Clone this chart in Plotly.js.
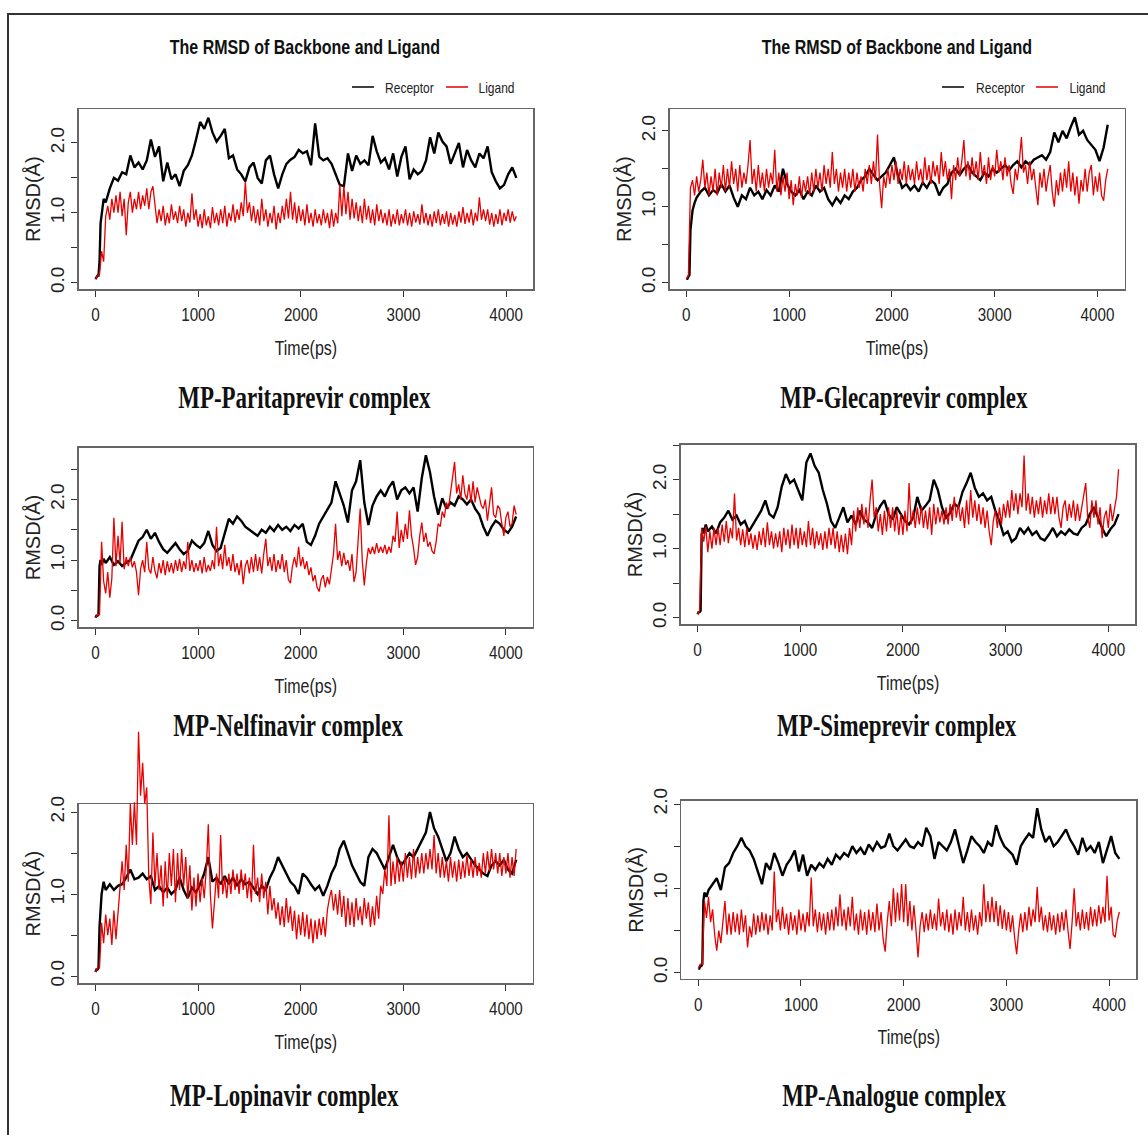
<!DOCTYPE html>
<html><head><meta charset="utf-8">
<script src="https://cdn.plot.ly/plotly-3.0.1.min.js"></script>
<style>html,body{margin:0;padding:0;background:#fff;}#chart{width:1148px;height:1135px;}</style>
</head><body><div id="chart"></div>
<script>
// ---------------- DATA ----------------
// receptor (backbone) RMSD sampled on a coarse time grid (ps)
const timeReceptor = [0,10,20,30,40,50,60,80,100,
140,180,220,260,300,340,380,420,460,500,
540,580,620,660,700,740,780,820,860,900,
940,980,1020,1060,1100,1140,1180,1220,1260,1300,
1340,1380,1420,1460,1500,1540,1580,1620,1660,1700,
1740,1780,1820,1860,1900,1940,1980,2020,2060,2100,
2140,2180,2220,2260,2300,2340,2380,2420,2460,2500,
2540,2580,2620,2660,2700,2740,2780,2820,2860,2900,
2940,2980,3020,3060,3100,3140,3180,3220,3260,3300,
3340,3380,3420,3460,3500,3540,3580,3620,3660,3700,
3740,3780,3820,3860,3900,3940,3980,4020,4060,4100];
// ligand RMSD sampled on a finer time grid (ps)
const timeLigand = [0,20,40,60,80,100,120,140,160,180,
200,220,240,260,280,300,320,340,360,380,
400,420,440,460,480,500,520,540,560,580,
600,620,640,660,680,700,720,740,760,780,
800,820,840,860,880,900,920,940,960,980,
1000,1020,1040,1060,1080,1100,1120,1140,1160,1180,
1200,1220,1240,1260,1280,1300,1320,1340,1360,1380,
1400,1420,1440,1460,1480,1500,1520,1540,1560,1580,
1600,1620,1640,1660,1680,1700,1720,1740,1760,1780,
1800,1820,1840,1860,1880,1900,1920,1940,1960,1980,
2000,2020,2040,2060,2080,2100,2120,2140,2160,2180,
2200,2220,2240,2260,2280,2300,2320,2340,2360,2380,
2400,2420,2440,2460,2480,2500,2520,2540,2560,2580,
2600,2620,2640,2660,2680,2700,2720,2740,2760,2780,
2800,2820,2840,2860,2880,2900,2920,2940,2960,2980,
3000,3020,3040,3060,3080,3100,3120,3140,3160,3180,
3200,3220,3240,3260,3280,3300,3320,3340,3360,3380,
3400,3420,3440,3460,3480,3500,3520,3540,3560,3580,
3600,3620,3640,3660,3680,3700,3720,3740,3760,3780,
3800,3820,3840,3860,3880,3900,3920,3940,3960,3980,
4000,4020,4040,4060,4080,4100];

const seriesNames = ['Receptor', 'Ligand'];
const headerTitle = 'The RMSD of Backbone and Ligand';
const xTitle = 'Time(ps)';
const yTitle = 'RMSD(Å)';
const captions = ['MP-Paritaprevir complex','MP-Glecaprevir complex','MP-Nelfinavir complex',
                  'MP-Simeprevir complex','MP-Lopinavir complex','MP-Analogue complex'];
const xTickVals = [0,1000,2000,3000,4000];
const xTickText = ['0','1000','2000','3000','4000'];
const yTickVals = [0,0.5,1,1.5,2,2.5];
const yTickText = ['0.0','','1.0','','2.0',''];

const paritaprevirReceptor = [0.05,0.08,0.1,0.1,0.3,0.85,1.0,1.2,1.15,
1.35,1.5,1.46,1.58,1.55,1.82,1.65,1.72,1.62,1.75,
2.05,1.8,1.95,1.45,1.72,1.48,1.55,1.38,1.6,1.68,
1.82,2.05,2.3,2.2,2.36,2.15,2.02,2.1,2.2,1.78,
1.82,1.62,1.55,1.45,1.65,1.72,1.5,1.42,1.75,1.82,
1.55,1.35,1.55,1.7,1.76,1.8,1.9,1.85,1.88,1.68,
2.28,1.8,1.75,1.78,1.7,1.55,1.4,1.38,1.85,1.6,
1.82,1.7,1.75,1.68,2.1,1.88,1.72,1.78,1.62,1.85,
1.52,1.8,1.95,1.48,1.62,1.55,1.6,1.75,2.08,1.85,
2.15,2.02,1.95,1.7,1.85,2.0,1.65,1.9,1.75,1.65,
1.85,1.78,1.95,1.58,1.45,1.35,1.4,1.55,1.65,1.5];
const paritaprevirLigand = [0.05,0.1,0.12,0.45,0.3,0.95,1.1,0.9,1.2,1.0,
1.25,1.0,1.3,0.95,1.2,0.68,1.15,1.3,1.0,1.2,
1.05,1.3,1.05,1.25,1.1,1.35,1.05,1.3,1.38,1.1,
0.85,1.05,0.88,1.1,0.82,1.0,0.85,1.12,0.9,1.02,
0.85,1.1,0.88,1.05,0.8,1.0,0.86,1.28,0.9,1.05,
0.8,0.98,0.78,1.05,0.82,0.95,0.78,1.08,0.85,1.0,
0.82,1.05,0.85,1.1,0.8,1.0,0.88,1.12,0.86,1.05,
0.9,1.15,0.95,1.44,1.0,1.15,0.88,1.1,0.85,1.05,
0.82,1.2,0.88,1.05,0.8,1.0,0.85,1.1,0.76,1.0,
0.85,1.1,0.9,1.2,0.92,1.3,0.9,1.15,0.85,1.1,
0.88,1.05,0.82,1.12,0.85,1.0,0.8,1.05,0.85,0.98,
0.82,1.05,0.85,1.0,0.78,1.05,0.8,1.0,0.85,1.4,
0.95,1.38,0.98,1.3,0.9,1.2,0.92,1.15,0.88,1.1,
0.85,1.2,0.9,1.1,0.85,1.05,0.82,1.12,0.88,1.05,
0.85,1.0,0.82,1.05,0.8,0.98,0.84,1.05,0.82,0.98,
0.85,1.05,0.82,1.0,0.8,1.02,0.86,0.98,0.83,1.12,
0.85,1.0,0.82,0.98,0.8,1.02,0.85,1.05,0.82,0.98,
0.84,1.02,0.8,1.0,0.83,0.97,0.8,1.02,0.86,1.08,
0.84,1.0,0.86,1.05,0.82,1.0,0.88,1.22,0.9,1.05,
0.88,1.05,0.83,1.0,0.8,0.98,0.84,1.05,0.82,1.0,
0.88,1.05,0.86,1.02,0.88,0.95];

const glecaprevirReceptor = [0.05,0.05,0.08,0.1,0.7,0.85,0.95,1.05,1.12,
1.2,1.25,1.15,1.22,1.18,1.3,1.2,1.28,1.12,1.0,
1.15,1.1,1.25,1.15,1.2,1.1,1.22,1.15,1.28,1.2,
1.5,1.3,1.2,1.15,1.22,1.1,1.2,1.15,1.28,1.2,
1.25,1.1,1.02,1.12,1.05,1.15,1.1,1.2,1.25,1.35,
1.4,1.5,1.42,1.35,1.4,1.45,1.55,1.65,1.4,1.25,
1.3,1.22,1.28,1.2,1.32,1.25,1.35,1.3,1.15,1.25,
1.3,1.45,1.5,1.42,1.5,1.55,1.45,1.4,1.35,1.45,
1.4,1.5,1.45,1.5,1.55,1.48,1.55,1.6,1.52,1.6,
1.55,1.62,1.65,1.68,1.62,1.72,1.98,1.85,2.0,1.9,
2.05,2.18,1.95,2.0,1.88,1.82,1.75,1.6,1.78,2.08];
const glecaprevirLigand = [0.05,0.1,1.25,1.35,1.15,1.4,1.2,1.35,1.62,1.25,
1.45,1.15,1.4,1.2,1.5,1.15,1.45,1.25,1.55,1.2,
1.5,1.25,1.6,1.3,1.5,1.2,1.55,1.25,1.45,1.3,
1.55,1.88,1.3,1.5,1.2,1.55,1.25,1.45,1.2,1.5,
1.25,1.45,1.3,1.75,1.2,1.45,1.15,1.4,1.2,1.45,
1.1,1.35,1.02,1.3,1.15,1.4,1.12,1.35,1.2,1.4,
1.15,1.45,1.2,1.5,1.25,1.45,1.2,1.55,1.3,1.5,
1.25,1.72,1.3,1.5,1.2,1.45,1.25,1.5,1.2,1.45,
1.25,1.5,1.2,1.45,1.25,1.4,1.2,1.5,1.3,1.55,
1.3,1.6,1.35,1.95,1.3,0.98,1.4,1.25,1.5,1.3,
1.55,1.35,1.6,1.3,1.5,1.35,1.6,1.3,1.55,1.35,
1.5,1.3,1.6,1.35,1.5,1.3,1.65,1.35,1.55,1.3,
1.6,1.4,1.55,1.3,1.72,1.4,1.6,1.35,1.5,1.1,
1.55,1.35,1.65,1.4,1.6,1.88,1.4,1.6,1.35,1.65,
1.4,1.6,1.35,1.72,1.4,1.55,1.3,1.65,1.35,1.55,
1.4,1.75,1.45,1.6,1.35,1.65,1.4,1.55,1.3,1.17,
1.5,1.35,1.6,1.92,1.45,1.55,1.3,1.6,1.35,1.5,
1.25,1.02,1.45,1.25,1.5,1.2,1.4,1.55,1.2,1.0,
1.35,1.15,1.45,1.2,1.5,1.25,1.6,1.2,1.45,1.15,
1.4,1.04,1.35,1.2,1.5,1.2,1.45,1.55,1.15,1.4,
1.2,1.45,1.15,1.08,1.35,1.5];

const nelfinavirReceptor = [0.05,0.08,0.08,0.1,0.9,1.0,0.92,1.02,0.95,
1.05,0.92,0.98,0.9,0.96,1.0,1.15,1.32,1.38,1.5,
1.35,1.45,1.3,1.18,1.12,1.2,1.28,1.18,1.1,1.15,
1.32,1.25,1.2,1.28,1.48,1.25,1.15,1.2,1.45,1.68,
1.6,1.72,1.65,1.55,1.5,1.45,1.4,1.5,1.45,1.55,
1.48,1.58,1.5,1.55,1.48,1.58,1.52,1.6,1.3,1.25,
1.4,1.6,1.72,1.85,1.95,2.3,2.1,1.9,1.62,2.15,
2.3,2.65,1.95,1.58,1.9,2.05,2.15,2.05,2.2,2.3,
2.0,2.15,2.2,2.1,2.2,1.8,2.35,2.73,2.45,2.05,
1.75,2.02,1.85,1.95,1.9,2.05,2.0,1.92,2.0,1.85,
1.75,1.55,1.4,1.55,1.65,1.6,1.5,1.45,1.55,1.72];
const nelfinavirLigand = [0.05,0.1,0.1,1.3,0.65,0.45,0.8,0.38,0.7,1.7,
0.9,1.4,0.95,1.63,0.85,1.05,0.9,1.05,0.88,0.98,
0.8,0.42,0.85,1.0,0.8,1.3,0.85,0.78,1.05,0.82,
0.7,0.95,0.78,1.0,0.75,0.98,0.8,0.95,0.78,1.0,
0.82,1.02,0.8,0.98,0.85,1.3,0.82,1.0,0.8,0.95,
0.82,1.0,0.78,1.05,0.8,0.92,0.82,1.0,0.85,1.55,
0.9,1.1,0.85,1.25,0.9,1.05,0.82,1.1,0.8,0.95,
0.75,1.0,0.6,0.9,1.0,0.78,1.05,0.8,1.1,0.82,
1.05,0.78,1.1,1.35,0.9,1.05,0.82,1.1,0.8,1.0,
0.85,1.1,0.8,1.0,0.68,0.62,0.9,1.05,0.88,1.22,
0.9,1.05,0.85,0.98,0.75,0.88,0.65,0.75,0.55,0.48,
0.68,0.75,0.55,0.72,0.6,0.9,1.1,1.6,1.0,1.15,
0.9,1.12,0.92,1.0,0.82,1.1,0.64,0.8,1.3,1.85,
1.0,0.58,0.95,1.2,1.1,1.22,1.1,1.28,1.12,1.22,
1.12,1.25,1.1,1.22,1.12,1.4,1.3,1.8,1.2,1.5,
1.3,1.6,1.35,1.82,1.4,1.2,0.92,1.05,1.4,1.62,
1.3,1.45,1.22,1.3,1.15,1.1,1.3,1.6,1.55,1.8,
1.7,1.95,1.85,2.1,2.3,2.62,2.1,2.25,2.0,2.4,
2.1,2.0,2.25,1.95,2.3,1.95,2.2,2.05,1.9,1.85,
2.0,1.65,1.9,2.2,1.75,1.7,1.9,1.85,1.6,1.4,
1.7,1.8,1.55,1.6,1.9,1.75];

const simeprevirReceptor = [0.05,0.08,0.08,0.1,1.2,1.3,1.22,1.35,1.25,
1.32,1.22,1.38,1.45,1.55,1.42,1.48,1.35,1.4,1.25,
1.35,1.45,1.55,1.7,1.5,1.45,1.6,1.9,2.08,1.95,
2.0,1.85,1.7,2.25,2.38,2.2,2.1,1.85,1.65,1.4,
1.3,1.45,1.6,1.38,1.48,1.35,1.55,1.42,1.38,1.3,
1.5,1.62,1.7,1.5,1.42,1.6,1.5,1.4,1.35,1.45,
1.75,1.55,1.62,1.7,2.0,1.85,1.6,1.45,1.52,1.65,
1.6,1.82,1.95,2.1,1.88,1.75,1.8,1.7,1.75,1.55,
1.4,1.2,1.25,1.1,1.15,1.3,1.22,1.3,1.2,1.25,
1.15,1.12,1.2,1.3,1.18,1.25,1.2,1.28,1.22,1.2,
1.3,1.35,1.5,1.6,1.45,1.3,1.18,1.28,1.35,1.5];
const simeprevirLigand = [0.05,0.1,1.3,1.1,1.32,0.95,1.25,1.0,1.3,1.05,
1.3,1.05,1.35,1.1,1.4,1.08,1.3,1.15,1.8,1.12,
1.3,1.05,1.28,1.02,1.3,1.05,1.22,1.0,1.2,0.98,
1.25,1.05,1.3,1.02,1.38,1.05,1.25,1.0,1.22,1.02,
1.25,0.95,1.3,1.05,1.28,1.0,1.35,1.05,1.3,1.0,
1.3,1.05,1.25,1.02,1.4,1.05,1.3,1.0,1.25,1.05,
1.22,0.98,1.25,1.0,1.3,1.05,1.3,1.0,1.25,0.95,
1.2,0.95,1.22,0.92,1.3,1.05,1.55,1.25,1.6,1.3,
1.65,1.35,1.6,1.3,1.7,2.0,1.45,1.6,1.25,1.5,
1.2,1.55,1.25,1.6,1.3,1.6,1.25,1.55,1.2,1.5,
1.2,1.55,1.25,1.95,1.35,1.55,1.3,1.6,1.35,1.62,
1.3,1.55,1.28,1.6,1.2,1.65,1.35,1.6,1.38,1.55,
1.35,1.6,1.35,1.65,1.4,1.75,1.45,1.65,1.4,1.6,
1.3,1.7,1.35,1.85,1.45,1.7,1.4,1.65,1.35,1.6,
1.3,1.55,1.25,1.05,1.4,1.55,1.3,1.6,1.35,1.65,
1.45,1.7,1.45,1.85,1.55,1.8,1.5,1.8,1.6,2.35,
1.55,1.8,1.5,1.75,1.45,1.7,1.5,1.75,1.45,1.7,
1.5,1.8,1.5,1.75,1.5,1.75,1.45,1.3,1.6,1.7,
1.4,1.65,1.45,1.7,1.4,1.65,1.4,1.6,1.75,1.95,
1.45,1.3,1.7,1.45,1.7,1.35,1.6,1.15,1.45,1.55,
1.3,1.65,1.4,1.6,1.75,2.15];

const lopinavirReceptor = [0.05,0.08,0.08,0.1,0.6,0.9,1.0,1.15,1.05,
1.12,1.05,1.1,1.12,1.2,1.3,1.18,1.2,1.25,1.18,
1.22,1.05,1.1,1.02,1.08,1.0,1.05,1.2,1.05,0.95,
1.08,1.02,1.12,1.25,1.45,1.15,1.2,1.12,1.22,1.12,
1.2,1.1,1.18,1.12,1.15,1.08,1.0,1.1,1.05,1.2,
1.3,1.45,1.35,1.25,1.15,1.1,1.0,1.25,1.2,1.12,
1.05,1.1,0.98,1.1,1.25,1.35,1.55,1.65,1.5,1.35,
1.25,1.15,1.1,1.45,1.55,1.5,1.4,1.3,1.45,1.6,
1.45,1.35,1.42,1.5,1.45,1.55,1.65,1.75,2.0,1.8,
1.7,1.55,1.4,1.5,1.7,1.55,1.45,1.5,1.42,1.35,
1.3,1.25,1.22,1.35,1.4,1.35,1.42,1.3,1.25,1.42];
const lopinavirLigand = [0.05,0.1,0.1,0.65,0.4,0.75,0.5,0.7,0.38,0.8,
0.45,0.75,1.05,1.4,1.05,1.6,1.15,2.1,1.6,2.12,
1.6,2.98,2.2,2.6,2.1,2.3,1.2,0.88,1.75,1.1,
1.5,1.05,1.35,0.85,1.4,0.95,1.5,1.1,1.55,0.9,
1.5,1.05,1.55,1.1,1.45,0.95,1.35,0.8,1.2,0.85,
1.25,0.9,1.2,0.95,1.3,1.85,1.0,0.58,0.9,1.25,
0.95,1.72,1.0,1.2,0.95,1.25,1.0,1.3,1.05,1.25,
1.0,1.3,1.05,1.25,0.95,1.2,0.9,1.6,1.0,1.2,
0.9,1.25,0.95,1.15,0.75,1.1,0.8,0.95,0.7,0.9,
0.62,0.85,0.6,0.95,0.65,0.85,0.55,0.8,0.45,0.75,
0.5,0.78,0.48,0.75,0.45,0.7,0.4,0.68,0.45,0.7,
0.5,0.72,0.48,0.8,0.95,1.05,0.8,1.0,0.75,1.05,
0.72,0.98,0.6,0.95,0.62,0.9,0.6,0.95,0.68,0.85,
0.62,0.95,0.7,0.9,0.6,0.85,0.62,0.98,0.7,1.1,
1.0,1.3,1.1,1.96,1.1,1.4,1.12,1.45,1.15,1.4,
1.15,1.5,1.2,1.45,1.18,1.55,1.2,1.45,1.25,1.5,
1.25,1.5,1.3,1.55,1.3,1.72,1.25,1.5,1.2,1.45,
1.2,1.4,1.15,1.45,1.2,1.4,1.15,1.42,1.18,1.4,
1.2,1.48,1.22,1.42,1.2,1.45,1.22,1.38,1.2,1.5,
1.25,1.52,1.28,1.55,1.3,1.5,1.25,1.5,1.22,1.45,
1.25,1.5,1.2,1.45,1.22,1.55];

const analogueReceptor = [0.05,0.05,0.08,0.08,0.1,0.85,0.95,0.9,0.98,
1.05,1.12,0.98,1.25,1.3,1.42,1.5,1.6,1.5,1.45,
1.35,1.2,1.05,1.3,1.22,1.42,1.3,1.15,1.28,1.35,
1.45,1.2,1.4,1.15,1.28,1.22,1.3,1.25,1.35,1.28,
1.4,1.35,1.42,1.38,1.5,1.42,1.48,1.4,1.52,1.45,
1.55,1.48,1.5,1.65,1.5,1.45,1.52,1.58,1.5,1.48,
1.55,1.5,1.72,1.62,1.35,1.55,1.5,1.45,1.55,1.7,
1.5,1.3,1.45,1.62,1.55,1.5,1.42,1.55,1.5,1.75,
1.6,1.5,1.45,1.4,1.28,1.5,1.58,1.65,1.6,1.95,
1.7,1.55,1.62,1.5,1.55,1.62,1.7,1.58,1.5,1.4,
1.6,1.45,1.5,1.42,1.55,1.3,1.45,1.62,1.42,1.35];
const analogueLigand = [0.05,0.1,0.1,0.85,0.65,0.9,0.6,0.75,0.45,0.26,
0.5,0.35,0.6,0.85,0.45,0.7,0.45,0.72,0.48,0.7,
0.45,0.75,0.48,0.68,0.3,0.55,0.42,0.7,0.45,0.68,
0.48,0.72,0.5,0.7,0.45,0.68,0.5,1.2,0.6,0.75,
0.5,0.78,0.52,0.7,0.45,0.72,0.5,0.68,0.45,0.75,
0.5,0.7,0.48,0.72,0.55,1.13,0.55,0.75,0.48,0.72,
0.5,0.7,0.45,0.72,0.5,0.75,0.5,0.78,0.55,0.93,
0.55,0.75,0.5,0.78,0.55,0.9,0.5,0.7,0.45,0.75,
0.5,0.72,0.45,0.75,0.5,0.72,0.48,0.82,0.5,0.72,
0.4,0.25,0.6,0.85,0.55,1.0,0.6,0.95,0.62,1.05,
0.6,1.05,0.55,0.85,0.5,0.8,0.5,0.18,0.55,0.72,
0.48,0.7,0.5,0.75,0.52,0.7,0.5,0.88,0.55,0.72,
0.5,0.75,0.48,0.7,0.45,0.75,0.5,0.72,0.55,0.9,
0.5,0.72,0.48,0.75,0.5,0.68,0.45,0.72,0.55,1.05,
0.6,0.85,0.6,0.9,0.6,0.85,0.55,0.8,0.52,0.75,
0.5,0.72,0.48,0.68,0.42,0.22,0.5,0.7,0.48,0.72,
0.5,0.78,0.55,0.75,0.6,1.02,0.6,0.78,0.5,0.68,
0.48,0.72,0.5,0.68,0.45,0.7,0.48,0.72,0.5,0.75,
0.5,0.28,0.6,1.0,0.55,0.72,0.5,0.75,0.52,0.72,
0.5,0.78,0.55,0.75,0.55,0.8,0.58,0.78,0.6,1.15,
0.62,0.78,0.45,0.42,0.62,0.72];

// ---------------- PAGE GEOMETRY ----------------
const W = 1148, H = 1135;
const SANS = 'Liberation Sans, Arial, sans-serif';
const SERIF = 'Liberation Serif, Times New Roman, serif';
const REC_COLOR = '#000000', LIG_COLOR = '#e60000';
const X_RANGE = [-164, 4264];
const SANS_SQUEEZE = 0.8, SERIF_SQUEEZE = 0.74;   // the original figure is horizontally compressed

const panels = [
  {rec: paritaprevirReceptor, lig: paritaprevirLigand, box: [78.6,109,533.2,289.3], yRange: [-0.0956,2.4856], cap: [304.5,397], header: [305,47.5], legend: [352,409.5,446,496]},
  {rec: glecaprevirReceptor, lig: glecaprevirLigand, box: [669.5,109,1124.6,289.3], yRange: [-0.088,2.288], cap: [904,397], header: [897,47.5], legend: [942,1000.5,1036,1087]},
  {rec: nelfinavirReceptor, lig: nelfinavirLigand, box: [78.6,447.7,533,627.3], yRange: [-0.11,2.855], cap: [288,725]},
  {rec: simeprevirReceptor, lig: simeprevirLigand, box: [680.7,444.7,1135.4,624.3], yRange: [-0.0964,2.506], cap: [897,725]},
  {rec: lopinavirReceptor, lig: lopinavirLigand, box: [78.6,804,533,983.3], yRange: [-0.088,2.098], cap: [284,1095], overflowTop: 725},
  {rec: analogueReceptor, lig: analogueLigand, box: [681.4,800.7,1136.2,979], yRange: [-0.075,2.04], cap: [894,1095]}
];

const px = v => v / W;
const py = v => 1 - v / H;

const data = [];
const layout = {
  width: W, height: H, margin: {l:0, r:0, t:0, b:0},
  paper_bgcolor: '#ffffff', plot_bgcolor: 'rgba(0,0,0,0)',
  showlegend: false, annotations: [], shapes: []
};

function checkLen(arr, ref, name) { if (arr.length !== ref.length) throw new Error(name + ' length ' + arr.length + ' vs ' + ref.length); }

panels.forEach((p, i) => {
  checkLen(p.rec, timeReceptor, 'rec' + i); checkLen(p.lig, timeLigand, 'lig' + i);
  const n = i + 1, sfx = (n === 1 ? '' : String(n));
  const xa = 'x' + sfx, ya = 'y' + sfx;
  const [l, t, r, b] = p.box;
  const yv = yTickVals.filter(v => v <= p.yRange[1] + 0.01);
  layout['xaxis' + sfx] = {
    domain: [px(l), px(r)], range: X_RANGE, anchor: ya,
    tickvals: xTickVals, ticktext: xTickText, ticks: 'outside', ticklen: 6, tickwidth: 1, tickcolor: '#333',
    ticklabelstandoff: 2,
    showline: true, mirror: true, linecolor: '#666', linewidth: 1.3, showgrid: false, zeroline: false,
    tickfont: {family: SANS, size: 19, color: '#222'},
    title: {text: xTitle, font: {family: SANS, size: 20, color: '#222'}, standoff: 16},
    automargin: false, fixedrange: true
  };
  layout['yaxis' + sfx] = {
    domain: [py(b), py(t)], range: p.yRange, anchor: xa,
    tickvals: yv, ticktext: yTickText.slice(0, yv.length), ticks: 'outside', ticklen: 6, tickwidth: 1, tickcolor: '#333',
    tickangle: -90, ticklabelstandoff: 0,
    showline: true, mirror: true, linecolor: '#666', linewidth: 1.3, showgrid: false, zeroline: false,
    tickfont: {family: SANS, size: 19, color: '#222'},
    title: {text: yTitle, font: {family: SANS, size: 20, color: '#222'}, standoff: 0},
    automargin: false, fixedrange: true
  };
  data.push({x: timeReceptor, y: p.rec, xaxis: xa, yaxis: ya, type: 'scatter', mode: 'lines', name: seriesNames[0],
             line: {color: REC_COLOR, width: 2.4}, hoverinfo: 'skip'});
  let lxa = xa, lya = ya;
  if (p.overflowTop) {
    // same-scale overlay so the ligand spike is not clipped at the box top, as in the original figure
    const ppu = (b - t) / (p.yRange[1] - p.yRange[0]);
    const topVal = p.yRange[0] + (b - p.overflowTop) / ppu;
    layout.xaxis7 = {domain: [px(l), px(r)], range: X_RANGE, anchor: 'y7', visible: false, fixedrange: true};
    layout.yaxis7 = {domain: [py(b), py(p.overflowTop)], range: [p.yRange[0], topVal], anchor: 'x7', visible: false, fixedrange: true};
    lxa = 'x7'; lya = 'y7';
  }
  data.push({x: timeLigand, y: p.lig, xaxis: lxa, yaxis: lya, type: 'scatter', mode: 'lines', name: seriesNames[1],
             line: {color: LIG_COLOR, width: 1.3}, hoverinfo: 'skip'});
  layout.annotations.push({text: captions[i], xref: 'paper', yref: 'paper', x: px(p.cap[0]), y: py(p.cap[1]),
    xanchor: 'center', yanchor: 'middle', showarrow: false,
    font: {family: SERIF, size: 31, color: '#111', weight: 700}});
  if (p.header) {
    layout.annotations.push({text: headerTitle, xref: 'paper', yref: 'paper', x: px(p.header[0]), y: py(p.header[1]),
      xanchor: 'center', yanchor: 'middle', showarrow: false, font: {family: SANS, size: 20, color: '#111', weight: 700}});
    const [bx, btx, rx, rtx] = p.legend, ly = 87;
    layout.shapes.push({type: 'line', xref: 'paper', yref: 'paper', x0: px(bx), x1: px(bx + 22), y0: py(ly), y1: py(ly), line: {color: REC_COLOR, width: 1.5}});
    layout.shapes.push({type: 'line', xref: 'paper', yref: 'paper', x0: px(rx), x1: px(rx + 22), y0: py(ly), y1: py(ly), line: {color: LIG_COLOR, width: 1.5}});
    layout.annotations.push({text: seriesNames[0], xref: 'paper', yref: 'paper', x: px(btx), y: py(ly), xanchor: 'center', yanchor: 'middle', showarrow: false, font: {family: SANS, size: 15, color: '#222'}});
    layout.annotations.push({text: seriesNames[1], xref: 'paper', yref: 'paper', x: px(rtx), y: py(ly), xanchor: 'center', yanchor: 'middle', showarrow: false, font: {family: SANS, size: 15, color: '#222'}});
  }
});

// outer frame of the figure (only its top and left edges fall inside the picture)
layout.shapes.push({type: 'rect', xref: 'paper', yref: 'paper', x0: px(8), x1: px(W + 20), y0: py(H + 20), y1: py(14),
  line: {color: '#333', width: 2}, fillcolor: 'rgba(0,0,0,0)'});

function squeeze(el, f) {
  const w = el.getComputedTextLength();
  if (w > 0) { el.setAttribute('textLength', (w * f).toFixed(1)); el.setAttribute('lengthAdjust', 'spacingAndGlyphs'); }
}

Plotly.newPlot('chart', data, layout, {displayModeBar: false, staticPlot: true}).then(() => {
  const root = document.getElementById('chart');
  root.querySelectorAll('.xaxislayer-above text').forEach(el => squeeze(el, SANS_SQUEEZE));
  root.querySelectorAll('text').forEach(el => {
    const c = el.getAttribute('class') || '';
    if (/^x\d*title$/.test(c)) squeeze(el, SANS_SQUEEZE);
  });
  root.querySelectorAll('.annotation-text').forEach(el => {
    squeeze(el, captions.indexOf(el.textContent) >= 0 ? SERIF_SQUEEZE : SANS_SQUEEZE);
  });
});
</script>
</body></html>
